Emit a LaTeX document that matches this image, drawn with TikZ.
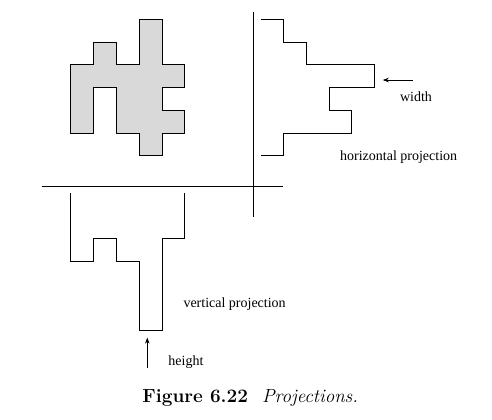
\documentclass[tikz,border=0pt]{standalone}
\usepackage{fontspec}
\newfontfamily\labelfont{Liberation Serif}
\usetikzlibrary{arrows.meta}

\begin{document}
\begin{tikzpicture}[x=22.8pt, y=22.8pt,
    outline/.style={line width=0.9pt},
    lbl/.style={font=\labelfont\fontsize{14}{16}\selectfont, inner sep=0, anchor=base west},
    pointer/.style={line width=0.8pt, -{Stealth[length=6pt, width=4.5pt]}}]
        \useasboundingbox (-11.11,-10.26) rectangle (10.47,8.16);

        \coordinate (xl) at (-9.28, 0);
        \coordinate (xr) at (1.32, 0);
        \coordinate (yt) at (0, 7.62);
        \coordinate (yb) at (0, -1.34);
        \draw [outline] (xl) -- (xr);
        \draw [outline] (yt) -- (yb);

        \draw [outline, fill=gray!30] (-5,7.32) -- (-4,7.32) -- (-4,5.32) -- (-3,5.32) -- (-3,4.32) -- (-4,4.32)
          -- (-4,3.32) -- (-3,3.32) -- (-3,2.32) -- (-4,2.32) -- (-4,1.32) -- (-5,1.32) -- (-5,2.32) -- (-6,2.32)
          -- (-6,4.32) -- (-7,4.32) -- (-7,2.32) -- (-8,2.32) -- (-8,5.32) -- (-7,5.32) -- (-7,6.32) -- (-6,6.32)
          -- (-6,5.32) -- (-5,5.32) -- cycle;

        \draw [outline] (0.32,7.32) -- (1.32,7.32) -- (1.32,6.32) -- (2.32,6.32) -- (2.32,5.32) -- (5.32,5.32)
          -- (5.32,4.32) -- (3.32,4.32) -- (3.32,3.32) -- (4.32,3.32) -- (4.32,2.32) -- (1.32,2.32)
          -- (1.32,1.32) -- (0.32,1.32);
        \draw [outline] (-8,-0.32) -- (-8,-3.32) -- (-7,-3.32) -- (-7,-2.32) -- (-6,-2.32) -- (-6,-3.32)
          -- (-5,-3.32) -- (-5,-6.32) -- (-4,-6.32) -- (-4,-2.32) -- (-3,-2.32) -- (-3,-0.32);

        \coordinate (wtail) at (6.99, 4.65);
        \coordinate (wtip) at (5.68, 4.65);
        \coordinate (htail) at (-4.65, -7.98);
        \coordinate (htip) at (-4.65, -6.65);
        \draw [pointer] (wtail) -- (wtip);
        \draw [pointer] (htail) -- (htip);

        \node [lbl] (width) at (6.43, 3.73) {width};
        \node [lbl] (hproj) at (3.80, 1.11) {horizontal projection};
        \node [lbl] (vproj) at (-3.07, -5.32) {vertical projection};
        \node [lbl] (height) at (-3.73, -7.85) {height};
        \node [inner sep=0, anchor=base west, font=\fontsize{19}{22}\selectfont] (caption) at (-4.87, -9.50)
          {\textbf{Figure 6.22}\hspace{14pt}\textit{Projections.}};
      \end{tikzpicture}
\end{document}
